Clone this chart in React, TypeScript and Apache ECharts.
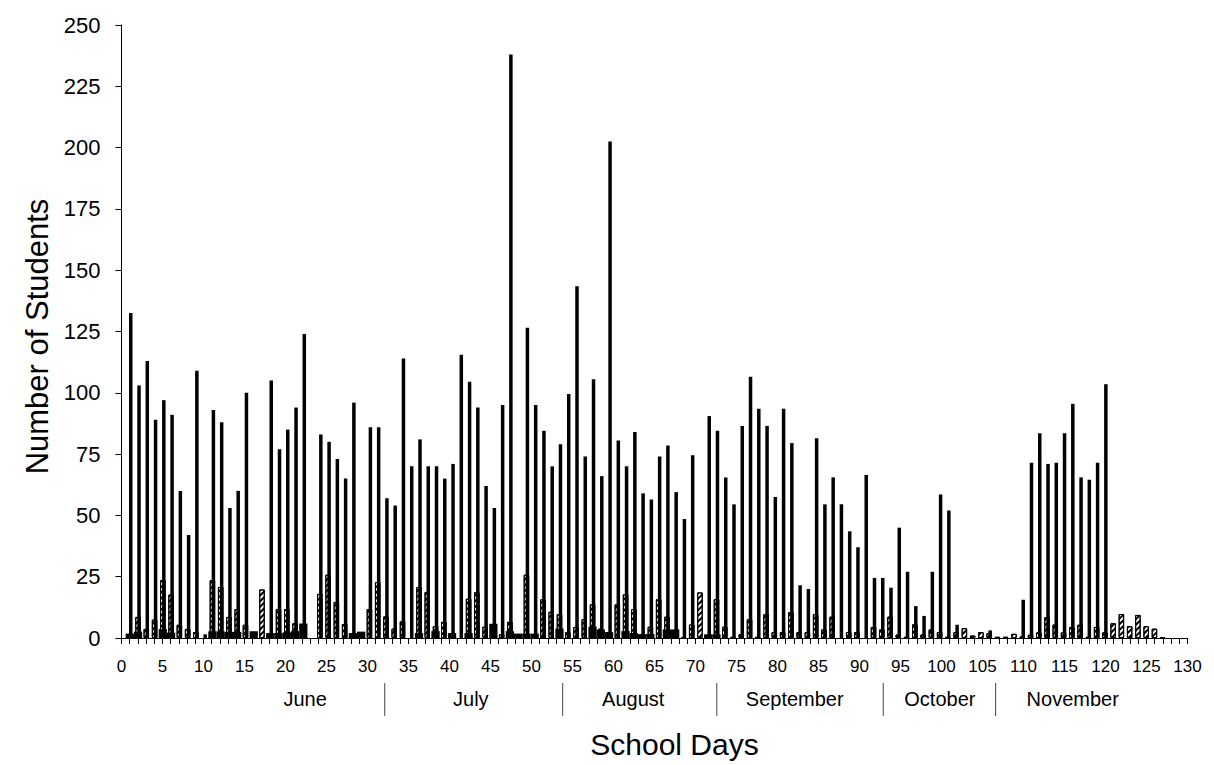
import React, { useEffect, useRef } from "react";
import * as echarts from "echarts";

// ---- data -------------------------------------------------------------
// one entry per school day, index = day number (0 .. 129)
const schoolDays: string[] = Array.from({ length: 130 }, (_, i) => String(i));

// tall thin black bars
const totalStudents: number[] = [
  0,
  132.5, 103, 113, 89, 97, 91, 60, 42, 109, 1.5,
  93, 88, 53, 60, 100, 0, 0, 105, 77, 85,
  94, 124, 0, 83, 80, 73, 65, 96, 0, 86,
  86, 57, 54, 114, 70, 81, 70, 70, 65, 71,
  115.5, 104.5, 94, 62, 53, 95, 238, 0, 126.5, 95,
  84.5, 70, 79, 99.5, 143.5, 74, 105.5, 66, 202.5, 80.5,
  70, 84, 59, 56.5, 74, 78.5, 59.5, 48.5, 74.5, 0,
  90.5, 84.5, 65.5, 54.5, 86.5, 106.5, 93.5, 86.5, 57.5, 93.5,
  79.5, 21.5, 20, 81.5, 54.5, 65.5, 54.5, 43.5, 37, 66.5,
  24.5, 24.5, 20.5, 45, 27, 13, 9, 27, 58.5, 52,
  5.4, 0, 0, 0, 3.1, 0, 0, 0, 15.6, 71.5,
  83.5, 71, 71.5, 83.5, 95.5, 65.5, 64.5, 71.5, 103.5, 0,
  0, 0, 0, 0, 0, 0, 0, 0, 0,
];

// hatched bars
const hatchedStudents: number[] = [
  0,
  0, 8.6, 3.7, 7.5, 23.6, 17.7, 5.4, 3.7, 2.4, 0,
  23.6, 20.8, 8.6, 11.8, 5.4, 0, 19.8, 0, 11.8, 11.8,
  6, 0, 0, 18, 25.8, 14.7, 5.7, 0, 0, 11.8,
  22.8, 8.8, 3.8, 6.8, 0, 20.8, 18.8, 4.8, 6.6, 0,
  0, 16, 18.7, 4.6, 0, 1.5, 6.6, 0, 25.8, 0,
  15.8, 10.7, 9.7, 2.4, 4.5, 7.7, 13.7, 3.8, 2.4, 13.7,
  17.8, 11.8, 0, 4.6, 15.8, 8.7, 0, 0.3, 5.5, 18.6,
  0, 15.8, 4.6, 0.5, 1.5, 7.6, 0.5, 9.7, 2.4, 2.4,
  10.5, 2.4, 2.4, 9.7, 3.5, 8.7, 0, 2.4, 2.4, 0,
  4.5, 3.5, 8.7, 1.4, 0.5, 5.6, 1.4, 3.5, 2.4, 0.5,
  2.4, 4, 1, 2.4, 2, 0.5, 0.5, 1.7, 0.6, 1.3,
  2.3, 8.5, 5.5, 2.3, 4.5, 5.4, 0.5, 4.5, 2.3, 6,
  9.8, 4.8, 9.4, 4.8, 3.8, 0.4, 0, 0, 0,
];

// wide solid black bars
const solidStudents: number[] = [
  0,
  1.8, 2.6, 0, 0, 3.6, 2.2, 0, 0, 0, 0,
  2.7, 2.7, 2.5, 2.5, 0, 2.8, 0, 2, 2, 2.3,
  2.8, 5.9, 0, 0, 0, 0, 0, 2, 2.6, 0,
  0, 0, 0, 0, 0, 2, 0, 2.8, 0, 2,
  0, 2, 0, 0, 5.8, 0, 2.8, 1.8, 1.8, 1.8,
  0, 0, 3.8, 0, 0, 0, 4.6, 3.4, 2.4, 0,
  2.8, 2, 1.6, 1.6, 0, 3.5, 3.5, 0, 0, 0,
  1.5, 1.5, 0, 0, 0, 0, 0, 0, 0, 0,
  0, 0, 0, 0, 0, 0, 0, 0, 0, 0,
  0, 0, 0, 0, 0, 0, 0, 0, 0, 0,
  0, 0, 0, 0, 0, 0, 0, 0, 0, 0,
  0, 0, 0, 0, 0, 0, 0, 0, 0, 0,
  0, 0, 0, 0, 0, 0, 0, 0, 0,
];

const monthNames: string[] = ["June", "July", "August", "September", "October", "November"];
const monthCenters: number[] = [22.4, 42.6, 62.4, 82.1, 99.8, 116];
const monthDividers: number[] = [32.1, 53.8, 72.6, 92.9, 106.6];

const FONT = "'Liberation Sans', Arial, Helvetica, sans-serif";

export default function App() {
  const ref = useRef<HTMLDivElement>(null);

  useEffect(() => {
    if (!ref.current) return;
    const chart = echarts.init(ref.current, null, { renderer: "svg" });
    const nz = (a: number[]) => a.map((v) => (v > 0 ? v : null));

    chart.setOption({
      animation: false,
      backgroundColor: "#ffffff",
      grid: {
        left: 121.5,
        right: 26.5,
        top: 25,
        bottom: 127,
        containLabel: false,
        outerBoundsMode: "none",
      },
      xAxis: [
        { type: "category", data: schoolDays, boundaryGap: false, show: false, position: "bottom" },
        { type: "category", data: schoolDays, boundaryGap: false, show: false, position: "bottom" },
        {
          type: "value",
          min: 0,
          max: 130,
          interval: 5,
          position: "bottom",
          axisLine: { show: true, onZero: false, lineStyle: { color: "#000", width: 1 } },
          axisTick: { show: true, length: 6, lineStyle: { color: "#000", width: 1 } },
          minorTick: { show: true, splitNumber: 5, length: 6, lineStyle: { color: "#000", width: 1 } },
          splitLine: { show: false },
          minorSplitLine: { show: false },
          axisLabel: { color: "#000", fontSize: 17, fontFamily: FONT, margin: 20 },
          name: "School Days",
          nameLocation: "middle",
          nameGap: 91,
          nameTextStyle: { color: "#000", fontSize: 30, fontFamily: FONT, padding: [0, 0, 0, 40] },
        },
      ],
      yAxis: {
        type: "value",
        min: 0,
        max: 250,
        interval: 25,
        axisLine: { show: true, lineStyle: { color: "#000", width: 1 } },
        axisTick: { show: true, length: 6, inside: false, lineStyle: { color: "#000" } },
        splitLine: { show: false },
        axisLabel: { color: "#000", fontSize: 22, fontFamily: FONT, margin: 21 },
        name: "Number of Students",
        nameLocation: "middle",
        nameGap: 68,
        nameTextStyle: { color: "#000", fontSize: 31, fontFamily: FONT, padding: [0, 10, 0, 0] },
      },
      series: [
        {
          name: "Hatched",
          type: "bar",
          xAxisIndex: 0,
          data: nz(hatchedStudents),
          barWidth: 5.5,
          barGap: "-63.6%",
          z: 2,
          itemStyle: {
            color: "#ffffff",
            borderColor: "#000",
            borderWidth: 1,
            decal: {
              symbol: "rect",
              symbolSize: 1,
              dashArrayX: [1, 0],
              dashArrayY: [1.3, 1.7],
              rotation: -Math.PI / 4,
              color: "#000",
            },
          },
        },
        {
          name: "Total",
          type: "bar",
          xAxisIndex: 0,
          data: nz(totalStudents),
          barWidth: 3.5,
          barGap: "-63.6%",
          z: 4,
          itemStyle: { color: "#000" },
        },
        {
          name: "Solid",
          type: "bar",
          xAxisIndex: 1,
          data: nz(solidStudents),
          barWidth: "100%",
          z: 3,
          itemStyle: { color: "#000" },
        },
      ],
    });

    const y0 = chart.convertToPixel({ yAxisIndex: 0 }, 0) as number;
    const graphics: any[] = [];
    monthDividers.forEach((d) => {
      const x = chart.convertToPixel({ xAxisIndex: 2 }, d) as number;
      graphics.push({
        type: "line",
        shape: { x1: x, y1: y0 + 45, x2: x, y2: y0 + 78 },
        style: { stroke: "#444", lineWidth: 1 },
        silent: true,
      });
    });
    monthNames.forEach((m, i) => {
      const x = chart.convertToPixel({ xAxisIndex: 2 }, monthCenters[i]) as number;
      graphics.push({
        type: "text",
        x,
        y: y0 + 61,
        style: {
          text: m,
          fontSize: 20,
          fontFamily: FONT,
          fill: "#000",
          align: "center",
          verticalAlign: "middle",
        },
        silent: true,
      });
    });
    chart.setOption({ graphic: graphics });

    return () => chart.dispose();
  }, []);

  return (
    <div
      ref={ref}
      style={{ position: "absolute", left: 0, top: 0, width: 1214, height: 765, background: "#fff" }}
    />
  );
}
